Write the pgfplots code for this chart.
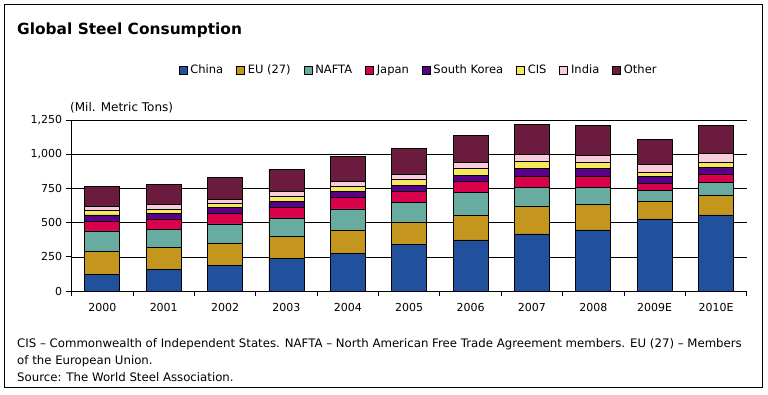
\documentclass[border=0pt]{standalone}
\usepackage{pgfplots}
\pgfplotsset{compat=1.18}
\usepackage{pgfplotstable}
\usepackage{fontspec}
\setmainfont{DejaVu Sans}
\definecolor{cChina}{HTML}{21519C}
\definecolor{cEU}{HTML}{C4961E}
\definecolor{cNAFTA}{HTML}{68ABA0}
\definecolor{cJapan}{HTML}{D9004C}
\definecolor{cSK}{HTML}{5A0088}
\definecolor{cCIS}{HTML}{F5E85A}
\definecolor{cIndia}{HTML}{F9CCDD}
\definecolor{cOther}{HTML}{6B1C3E}
\pgfplotstableread{
x China EU NAFTA Japan SK CIS India Other
0 123 169 147 73 44 32 27 147
1 159 162 132 74 37 36 30 147
2 189 161 140 74 44 29 30 161
3 240 162 132 74 44 37 36 162
4 277 169 154 81 44 37 37 184
5 343 162 140 80 45 44 36 192
6 373 183 162 81 44 52 44 198
7 417 198 140 81 59 51 52 220
8 446 184 125 81 59 44 51 221
9 527 125 81 51 52 29 59 184
10 556 140 96 58 52 37 66 206
}\steeldata
\begin{document}
\begin{tikzpicture}
\path[use as bounding box] (0pt,0pt) rectangle (768pt,394pt);
\draw[line width=1pt] (4pt,7pt) rectangle (762pt,389pt);
\node[anchor=base west, inner sep=0pt, font=\bfseries\fontsize{15.4}{18}\selectfont] at (17pt,359.5pt) {Global Steel Consumption};
\begin{axis}[
  at={(71.7pt,103pt)}, anchor=south west,
  scale only axis, width=675pt, height=171pt,
  xmin=-0.5, xmax=10.5, ymin=0, ymax=1250,
  ybar stacked, bar width=35pt,
  axis x line*=bottom, axis y line*=left,
  axis line style={black, line width=0.8pt},
  ytick={0,250,500,750,1000,1250},
  ymajorgrids, grid style={black, line width=0.6pt},
  xtick={0,...,10},
  xticklabels={2000,2001,2002,2003,2004,2005,2006,2007,2008,2009E,2010E},
  minor xtick={-0.5,0.5,...,10.5},
  major x tick style={draw=none},
  tick style={black, line width=0.8pt},
  tick align=outside,
  major tick length=6pt, minor tick length=5pt,
  /pgf/number format/1000 sep={,},
  /pgf/number format/assume math mode=true,
  tick label style={font=\fontsize{11}{13}\selectfont},
  xticklabel style={yshift=-3pt},
  legend style={at={(0.514,1.292)}, anchor=center, draw=none, fill=none,
    legend columns=-1, font=\fontsize{11.5}{13}\selectfont,
    /tikz/every even column/.append style={column sep=11pt},
    /tikz/every odd column/.append style={column sep=1pt},
    inner sep=0pt},
  legend image code/.code={\draw[#1, draw=black, line width=0.6pt] (0pt,-4pt) rectangle (8pt,4pt);},
  every axis plot/.append style={draw=black, line width=0.8pt},
]
\addplot[fill=cChina] table[x=x,y=China] {\steeldata};
\addplot[fill=cEU] table[x=x,y=EU] {\steeldata};
\addplot[fill=cNAFTA] table[x=x,y=NAFTA] {\steeldata};
\addplot[fill=cJapan] table[x=x,y=Japan] {\steeldata};
\addplot[fill=cSK] table[x=x,y=SK] {\steeldata};
\addplot[fill=cCIS] table[x=x,y=CIS] {\steeldata};
\addplot[fill=cIndia] table[x=x,y=India] {\steeldata};
\addplot[fill=cOther] table[x=x,y=Other] {\steeldata};
\legend{China, EU (27), NAFTA, Japan, South Korea, CIS, India, Other}
\end{axis}
\node[anchor=base west, inner sep=0pt, font=\fontsize{12}{14}\selectfont] at (70pt,282pt) {(Mil. Metric Tons)};
\begin{scope}[every node/.style={anchor=base west, inner sep=0pt, font=\fontsize{11.75}{14}\selectfont}]
\node at (17pt,46.5pt) {CIS – Commonwealth of Independent States. NAFTA – North American Free Trade Agreement members. EU (27) – Members};
\node at (17pt,29.5pt) {of the European Union.};
\node at (17pt,12.5pt) {Source: The World Steel Association.};
\end{scope}
\end{tikzpicture}
\end{document}
